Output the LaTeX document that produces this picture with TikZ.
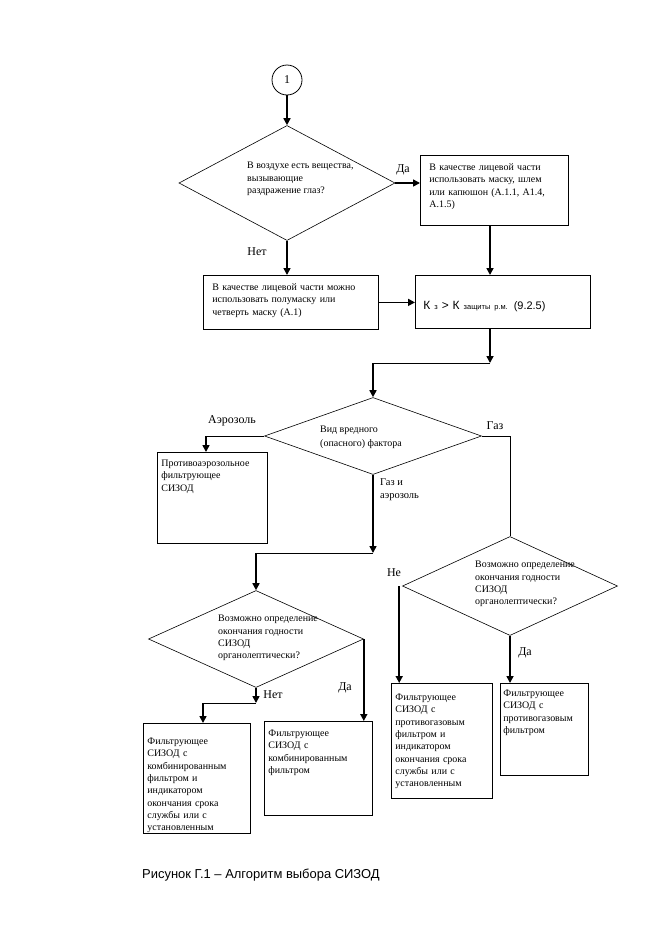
\documentclass[tikz,border=0pt]{standalone}
\usepackage{fontspec}
\setmainfont{Liberation Serif}
\newfontfamily\arialfont{Liberation Sans}
\usetikzlibrary{shapes.geometric}
\usetikzlibrary{arrows.meta}
\definecolor{lineColor}{HTML}{000000}
\definecolor{textColor}{HTML}{000000}
\def\boxfont{\fontsize{10}{12.4}\selectfont}
\def\labelfont{\fontsize{12}{14}\selectfont}
\def\textQuestion{Возможно определение\\окончания годности\\СИЗОД\\органолептически?}
\def\textStart{Фильтрующее\\СИЗОД с}
\def\textTail{индикатором\\окончания срока\\службы или с\\установленным}
\tikzset{
  decision/.style={diamond, draw=lineColor, line width=.6bp, inner sep=0pt},
  outbox/.style={draw=lineColor, line width=.8bp, anchor=north west, align=left,
    inner ysep=0pt, font=\boxfont, text=textColor},
  qtext/.style={anchor=west, align=left, inner sep=0pt, font=\boxfont, text=textColor},
  lbl/.style={font=\labelfont, text=textColor, inner sep=0pt},
  arr/.style={draw=lineColor, line width=1.6bp, -{Triangle[length=7bp,width=7bp]}},
  link/.style={draw=lineColor, line width=.8bp},
}

\begin{document}
\begin{tikzpicture}[x=1bp,y=-1bp]
\useasboundingbox (0,0) rectangle (661,936);

% shape layer
\begin{scope}
\node[circle, draw=lineColor, line width=.8bp, minimum size=30bp, inner sep=0pt,
  font=\fontsize{12}{14}\selectfont] (c1) at (287,80) {1};

\node[decision, minimum width=216bp, minimum height=115bp] (d1) at (287,183) {};
\node[decision, minimum width=217bp, minimum height=77bp] (d2) at (373,436) {};
\node[decision, minimum width=215bp, minimum height=99bp] (d3) at (510,586) {};
\node[decision, minimum width=215bp, minimum height=97bp] (d4) at (256,639) {};

\node[outbox, inner xsep=9bp, text width=130bp, text height=15bp, text depth=55bp]
  (b1) at (420,155) {В качестве лицевой части\\использовать маску, шлем\\или капюшон (А.1.1, А1.4,\\А.1.5)};
\node[outbox, inner xsep=9bp, text width=157bp, text height=15bp, text depth=39bp]
  (b2) at (203,275) {В качестве лицевой части можно\\использовать полумаску или\\четверть маску (А.1)};
\node[outbox, inner xsep=8bp, text width=159bp, text height=34bp, text depth=19bp,
  font=\arialfont\fontsize{12}{14}\selectfont]
  (b3) at (415,275) {К {\fontsize{7.5}{9}\selectfont з} > К {\fontsize{7.5}{9}\selectfont защиты р.м.} {\fontsize{11}{13}\selectfont(9.2.5)}};
\node[outbox, inner xsep=4bp, text width=102bp, text height=14bp, text depth=77bp]
  (b4) at (157,452) {Противоаэрозольное\\фильтрующее\\СИЗОД};
\node[outbox, inner xsep=4bp, text width=99bp, text height=21bp, text depth=89bp]
  (b5) at (143,723) {\textStart\\комбинированным\\фильтром и\\\textTail};
\node[outbox, inner xsep=4bp, text width=100bp, text height=15bp, text depth=79bp]
  (b6) at (264,721) {\textStart\\комбинированным\\фильтром};
\node[outbox, inner xsep=4bp, text width=93bp, text height=17bp, text depth=98bp]
  (b7) at (391,683) {\textStart\\противогазовым\\фильтром и\\\textTail};
\node[outbox, inner xsep=3bp, text width=82bp, text height=13bp, text depth=79bp]
  (b8) at (500,683) {\textStart\\противогазовым\\фильтром};
\end{scope}

% question layer
\begin{scope}
\node[qtext, text depth=2bp] (d1t) at (247,179) {В воздухе есть вещества,\\вызывающие\\раздражение глаз?};
\node[qtext, font=\fontsize{10}{14}\selectfont] (d2t) at (320,437) {Вид вредного\\(опасного) фактора};
\node[qtext] (d3t) at (475,584) {\textQuestion};
\node[qtext] (d4t) at (218,638) {\textQuestion};
\end{scope}

% link layer
\begin{scope}
\coordinate (j1) at (490,363);
\coordinate (j2) at (373,553);
\coordinate (j3) at (256,703);
\coordinate (a1) at (206,436);
\coordinate (a2) at (203,703);
\draw[arr] (c1.south) -- (d1.north);
\draw[arr] (d1.east) -- (d1.east -| b1.west);
\draw[arr] (d1.south) -- (d1.south |- b2.north);
\draw[arr] (j1 |- b1.south) -- (j1 |- b3.north);
\draw[arr] (b2.east) -- (b2.east -| b3.west);
\draw[arr] (j1 |- b3.south) -- (j1);
\draw[link] (j1) -- (j1 -| d2.north);
\draw[arr] (j1 -| d2.north) -- (d2.north);
\draw[link] (d2.west) -- (a1);
\draw[arr] (a1) -- (a1 |- b4.north);
\draw[link] (d2.east) -| (d3.north);
\draw[arr] (d2.south) -- (j2);
\draw[link] (j2) -- (j2 -| d4.north);
\draw[arr] (j2 -| d4.north) -- (d4.north);
\draw[arr] ([xshift=-3bp]d3.west) -- ([xshift=-3bp]d3.west |- b7.north);
\draw[arr] (d3.south) -- (d3.south |- b8.north);
\draw[arr] (d4.east) -- (d4.east |- b6.north);
\draw[arr] (d4.south) -- (j3);
\draw[link] (j3) -- (a2);
\draw[arr] (a2) -- (a2 |- b5.north);
\end{scope}

% label layer
\begin{scope}
\node[lbl] (l1) at (403,170) {Да};
\node[lbl] (l2) at (257,252) {Нет};
\node[lbl] (l3) at (232,421) {Аэрозоль};
\node[lbl] (l4) at (495,426) {Газ};
\node[lbl, anchor=west, align=left, font=\fontsize{10.5}{13}\selectfont] (l5) at (380,490) {Газ и\\аэрозоль};
\node[lbl] (l6) at (394,573) {Не};
\node[lbl] (l7) at (525,653) {Да};
\node[lbl] (l8) at (273,695) {Нет};
\node[lbl] (l9) at (345,688) {Да};
\node[lbl, anchor=west, font=\arialfont\fontsize{13}{15}\selectfont] (cap) at (142,875)
  {Рисунок Г.1 – Алгоритм выбора СИЗОД};
\end{scope}

\end{tikzpicture}
\end{document}
